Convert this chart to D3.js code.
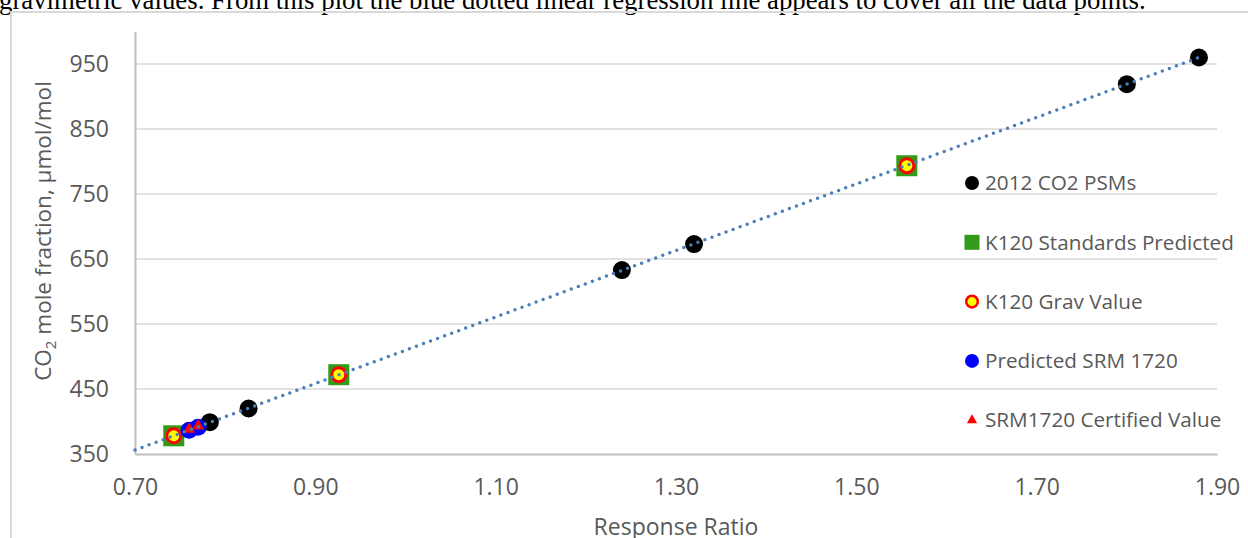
<!DOCTYPE html>
<html>
<head>
<meta charset="utf-8">
<script src="https://cdn.jsdelivr.net/npm/d3@7"></script>
<style>
  body { margin: 0; background: #fff; overflow: hidden; }
  svg text { font-family: "Open Sans", sans-serif; }
</style>
</head>
<body>
<svg id="chart" width="1248" height="538"></svg>
<script>
// 2012 CO2 PSMs
var psmX = [0.783, 0.826, 1.240, 1.320, 1.800, 1.880];
var psmY = [399, 420, 633, 673, 919, 960];
// K120 standards: predicted and gravimetric values
var k120X = [0.743, 0.926, 1.556];
var k120Pred = [378, 472, 793.5];
var k120Grav = [378, 472, 793.5];
// SRM 1720: predicted and certified
var srmX = [0.760, 0.770];
var srmPred = [386.5, 391];
var srmCert = [388, 393];

var xTicks = [0.7, 0.9, 1.1, 1.3, 1.5, 1.7, 1.9];
var yTicks = [350, 450, 550, 650, 750, 850, 950];
var legendLabels = ['2012 CO2 PSMs', 'K120 Standards Predicted', 'K120 Grav Value',
  'Predicted SRM 1720', 'SRM1720 Certified Value'];

var svg = d3.select('#chart');

// cut off sentence of the document above the chart
svg.append('text')
  .attr('x', -1)
  .attr('y', 8.5)
  .style('font-family', '"Liberation Serif", "Times New Roman", serif')
  .style('font-size', '26.8px')
  .attr('fill', '#000')
  .text('gravimetric values.  From this plot the blue dotted linear regression line appears to cover all the data points.');

// chart frame
svg.append('rect')
  .attr('x', 11).attr('y', 12)
  .attr('width', 1400).attr('height', 700)
  .attr('fill', 'none')
  .attr('stroke', '#d9d9d9')
  .attr('stroke-width', 2);

var x = d3.scaleLinear().domain([0.7, 1.9]).range([135, 1217]);
var y = d3.scaleLinear().domain([350, 1000]).range([454, 31.5]);

// gridlines
svg.append('g')
  .selectAll('line')
  .data(yTicks.slice(1))
  .enter()
  .append('line')
  .attr('x1', x(0.7)).attr('x2', x(1.9))
  .attr('y1', function (d) { return y(d); })
  .attr('y2', function (d) { return y(d); })
  .attr('stroke', '#d9d9d9')
  .attr('stroke-width', 1.5);

// axes
var yAxis = svg.append('g')
  .attr('transform', 'translate(' + x(0.7) + ',0)')
  .call(d3.axisLeft(y).tickValues(yTicks).tickSize(0).tickPadding(26).tickFormat(d3.format('d')));
var xAxis = svg.append('g')
  .attr('transform', 'translate(0,' + y(350) + ')')
  .call(d3.axisBottom(x).tickValues(xTicks).tickSize(0).tickPadding(25).tickFormat(d3.format('.2f')));

[yAxis, xAxis].forEach(function (g) {
  g.select('.domain').attr('stroke', '#bfbfbf').attr('stroke-width', 2);
  g.selectAll('text').attr('fill', '#595959').style('font-size', '23px');
});

// axis titles
var yTitle = svg.append('text')
  .attr('transform', 'translate(51,231) rotate(-90)')
  .attr('text-anchor', 'middle')
  .attr('fill', '#595959')
  .style('font-size', '22.5px');
yTitle.append('tspan').text('CO');
yTitle.append('tspan').attr('dy', 5).style('font-size', '15px').text('2');
yTitle.append('tspan').attr('dy', -5).text(' mole fraction, µmol/mol');

svg.append('text')
  .attr('x', 676).attr('y', 535)
  .attr('text-anchor', 'middle')
  .attr('fill', '#595959')
  .style('font-size', '23px')
  .text('Response Ratio');

var plot = svg.append('g');

// 2012 CO2 PSMs
plot.selectAll('.psm')
  .data(psmX)
  .enter()
  .append('circle')
  .attr('cx', function (d) { return x(d); })
  .attr('cy', function (d, i) { return y(psmY[i]); })
  .attr('r', 9)
  .attr('fill', '#000');

// K120 predicted (green squares)
plot.selectAll('.k120p')
  .data(k120X)
  .enter()
  .append('rect')
  .attr('x', function (d) { return x(d) - 10.5; })
  .attr('y', function (d, i) { return y(k120Pred[i]) - 10.5; })
  .attr('width', 21).attr('height', 21)
  .attr('fill', '#339a1a');

// K120 grav (yellow with red ring)
plot.selectAll('.k120g')
  .data(k120X)
  .enter()
  .append('circle')
  .attr('cx', function (d) { return x(d); })
  .attr('cy', function (d, i) { return y(k120Grav[i]); })
  .attr('r', 7)
  .attr('fill', '#ffff00')
  .attr('stroke', '#ff0000')
  .attr('stroke-width', 3);

// Predicted SRM 1720
plot.selectAll('.srmp')
  .data(srmX)
  .enter()
  .append('circle')
  .attr('cx', function (d) { return x(d); })
  .attr('cy', function (d, i) { return y(srmPred[i]); })
  .attr('r', 8.5)
  .attr('fill', '#0000ff');

// SRM1720 certified (red triangles)
var tri = d3.symbol().type(d3.symbolTriangle).size(65);
plot.selectAll('.srmc')
  .data(srmX)
  .enter()
  .append('path')
  .attr('d', tri)
  .attr('transform', function (d, i) {
    return 'translate(' + x(d) + ',' + y(srmCert[i]) + ')';
  })
  .attr('fill', '#ff0000');

// linear trendline through the PSMs
var mx = d3.mean(psmX), my = d3.mean(psmY);
var sxy = d3.sum(psmX, function (d, i) { return (d - mx) * (psmY[i] - my); });
var sxx = d3.sum(psmX, function (d) { return (d - mx) * (d - mx); });
var slope = sxy / sxx, icpt = my - slope * mx;
var lineEnds = [0.7, d3.max(psmX)];
plot.append('path')
  .datum(lineEnds)
  .attr('d', d3.line()
    .x(function (d) { return x(d); })
    .y(function (d) { return y(icpt + slope * d); }))
  .attr('fill', 'none')
  .attr('stroke', '#4a7ebb')
  .attr('stroke-width', 3.5)
  .attr('stroke-linecap', 'round')
  .attr('stroke-dasharray', '0,7.5');

// legend
var legend = svg.append('g').attr('transform', 'translate(972,0)');
var rows = legend.selectAll('g')
  .data(legendLabels)
  .enter()
  .append('g')
  .attr('transform', function (d, i) { return 'translate(0,' + (183 + i * 59.3) + ')'; });

rows.append('text')
  .attr('x', 13)
  .attr('dy', '0.35em')
  .attr('fill', '#595959')
  .style('font-size', '20.7px')
  .text(function (d) { return d; });

rows.each(function (d, i) {
  var g = d3.select(this);
  if (i === 0) g.append('circle').attr('r', 7).attr('fill', '#000');
  if (i === 1) g.append('rect').attr('x', -7.5).attr('y', -7.5).attr('width', 15).attr('height', 15).attr('fill', '#339a1a');
  if (i === 2) g.append('circle').attr('r', 5.8).attr('fill', '#ffff00').attr('stroke', '#ff0000').attr('stroke-width', 2.5);
  if (i === 3) g.append('circle').attr('r', 7).attr('fill', '#0000ff');
  if (i === 4) g.append('path').attr('d', d3.symbol().type(d3.symbolTriangle).size(45)).attr('fill', '#ff0000');
});
</script>
</body>
</html>
